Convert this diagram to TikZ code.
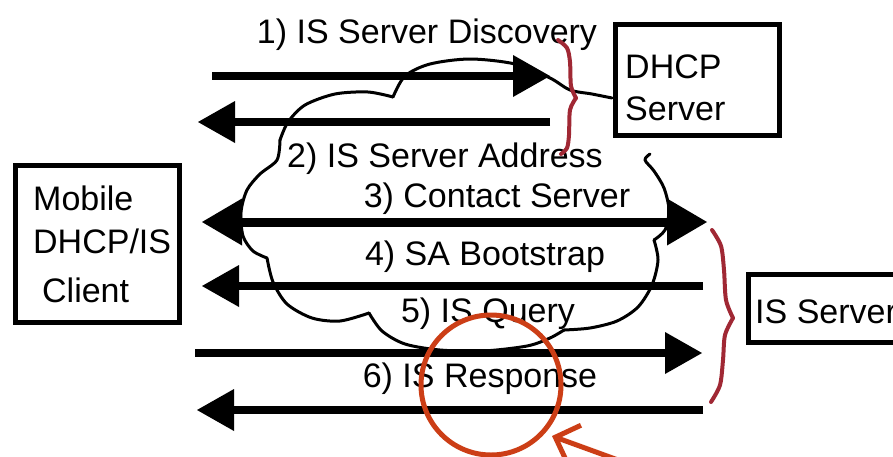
\documentclass[tikz,border=0pt]{standalone}
\usepackage{fontspec}
\setmainfont{Liberation Sans}
\usetikzlibrary{arrows.meta}

\definecolor{bracered}{RGB}{160,40,52}
\definecolor{markred}{RGB}{204,62,22}

\tikzset{
  msgline/.style={line width=8pt, black},
  msghead/.tip={Triangle[length=37pt, width=42pt, line width=0pt]},
  bighead/.tip={Triangle[length=40pt, width=47pt, line width=0pt]},
  boxnode/.style={draw, line width=5pt, inner sep=0pt},
  lbl/.style={inner sep=0pt, font=\fontsize{34}{40}\selectfont},
  cloudline/.style={line width=3pt, line join=round, line cap=round},
  brace/.style={draw=bracered, line width=4pt, line cap=round},
}

\begin{document}
\begin{tikzpicture}[x=1pt, y=-1pt]
\useasboundingbox (0,0) rectangle (893,456);
\clip (0,0) rectangle (893,456);
\fill[white] (0,0) rectangle (893,456);

% network cloud, joined to the DHCP server box
\draw[cloudline] plot[smooth] coordinates {(612,98) (592,94) (570,90) (550,78) (515,64) (470,59) (430,64) (405,76) (393,97)};
\draw[cloudline] plot[smooth] coordinates {(393,97) (368,92) (335,94) (305,105) (288,122) (280,140)};
\draw[cloudline] plot[smooth] coordinates {(280,140) (277,160) (260,174) (247,190) (241,212) (243,236) (253,251) (267,258)};
\draw[cloudline] plot[smooth] coordinates {(267,258) (273,282) (287,304) (312,318) (340,321) (369,313)};
\draw[cloudline] plot[smooth] coordinates {(369,313) (382,331) (405,344) (440,350) (483,351) (527,346) (550,338) (564,330)};
\draw[cloudline] plot[smooth] coordinates {(564,330) (590,328) (617,321) (638,307) (652,285) (658,260) (654,240)};
\draw[cloudline] plot[smooth] coordinates {(654,240) (665,230) (669,210) (664,188) (654,171) (645,160) (650,154)};

% boxes
\node[boxnode, minimum width=164pt, minimum height=111pt] (dhcp) at (697.5,80) {};
\node[boxnode, minimum width=164pt, minimum height=157pt] (client) at (97.5,244) {};
\node[boxnode, minimum width=210pt, minimum height=68pt, anchor=west] (isserver) at (745.5,308.5) {};

\node[lbl, anchor=base west] (dhcp1) at (625,78) {DHCP};
\node[lbl, anchor=base west] (dhcp2) at (625,120) {Server};
\node[lbl, anchor=base west] (cl1) at (33,210) {Mobile};
\node[lbl, anchor=base west] (cl2) at (33,253) {DHCP/IS};
\node[lbl, anchor=base west] (cl3) at (42,302) {Client};
\node[lbl, anchor=base west] (iss) at (755,323) {IS Server};

% message ends
\coordinate (m1a) at (212,76);  \coordinate (m1b) at (550,76);
\coordinate (m2a) at (550,122); \coordinate (m2b) at (198,122);
\coordinate (m3a) at (202,222); \coordinate (m3b) at (707,222);
\coordinate (m4a) at (703,286); \coordinate (m4b) at (202,286);
\coordinate (m5a) at (195,353); \coordinate (m5b) at (702,353);
\coordinate (m6a) at (703,410); \coordinate (m6b) at (197,410);

% messages
\draw[msgline, -msghead] (m1a) -- (m1b);
\draw[msgline, -msghead] (m2a) -- (m2b);
\draw[msgline, line width=9pt, bighead-bighead] (m3a) -- (m3b);
\draw[msgline, -msghead] (m4a) -- (m4b);
\draw[msgline, -msghead] (m5a) -- (m5b);
\draw[msgline, -msghead] (m6a) -- (m6b);

% message labels
\node[lbl, anchor=base] (t1) at (427,43) {1) IS Server Discovery};
\node[lbl, anchor=base] (t2) at (445,167) {2) IS Server Address};
\node[lbl, anchor=base] (t3) at (497,207) {3) Contact Server};
\node[lbl, anchor=base] (t4) at (485,265) {4) SA Bootstrap};
\node[lbl, anchor=base] (t5) at (488,322) {5) IS Query};
\node[lbl, anchor=base] (t6) at (480,387) {6) IS Response};

% braces grouping the exchanges
\draw[brace] plot[smooth] coordinates {(558,40) (567,48) (570,62) (571,86) (576,98)};
\draw[brace] plot[smooth] coordinates {(576,98) (570,110) (569,135) (567,148) (561,154)};
\draw[brace] plot[smooth] coordinates {(712,230) (721,246) (724,270) (726,300) (733,318)};
\draw[brace] plot[smooth] coordinates {(733,318) (725,335) (723,360) (720,385) (711,402)};

% highlight ring and pointer
\node[draw=markred, line width=5pt, circle, minimum size=140pt, inner sep=0pt] (ring) at (491,385) {};
\coordinate (ptail) at (640,468);
\coordinate (ptip) at (552,436);
\draw[draw=markred, line width=5pt, line cap=round, -{Straight Barb[length=20pt, width=40pt, line width=5pt]}] (ptail) -- (ptip);
\end{tikzpicture}
\end{document}
